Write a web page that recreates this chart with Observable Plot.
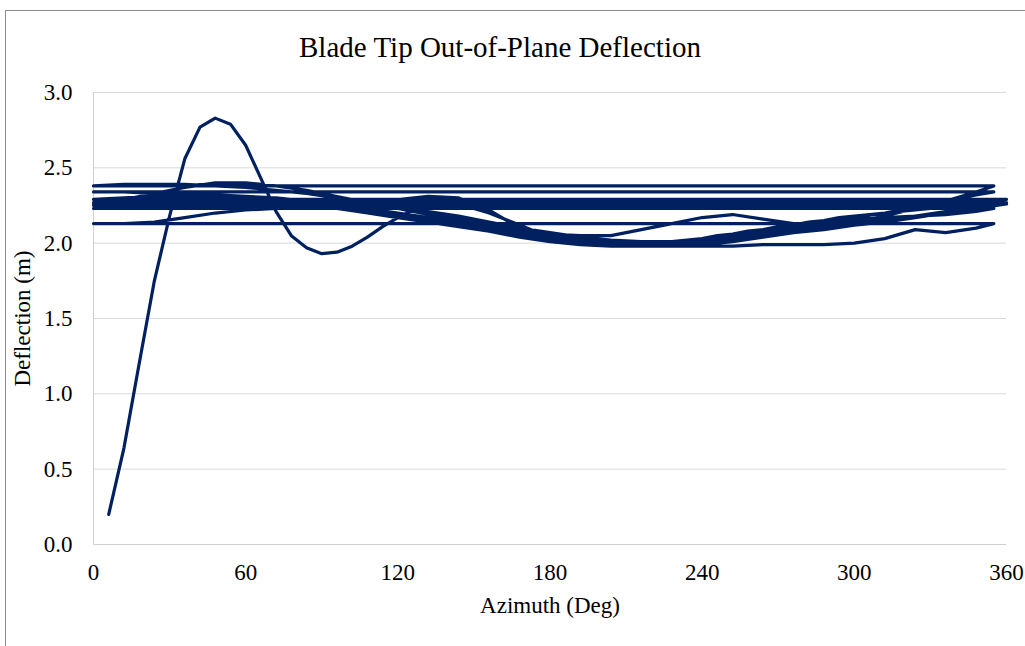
<!DOCTYPE html>
<html><head><meta charset="utf-8">
<script src="https://cdn.jsdelivr.net/npm/d3@7"></script>
<script src="https://cdn.jsdelivr.net/npm/@observablehq/plot@0.6"></script>
<style>
body{margin:0;background:#fff;}
#wrap{position:relative;width:1025px;height:646px;overflow:hidden;background:#fff;}
#frame{position:absolute;left:5px;top:10px;width:1100px;height:700px;border:1.5px solid #8c8c8c;box-sizing:border-box;}
#title{position:absolute;left:0;width:1000px;top:31px;line-height:32px;text-align:center;font-family:"Liberation Serif",serif;font-size:29px;color:#000;white-space:nowrap;}
#chart{position:absolute;left:0;top:0;}
</style></head><body>
<div id="wrap"><div id="frame"></div><div id="chart"></div><div id="title">Blade Tip Out-of-Plane Deflection</div></div>
<script>
// Tick labels
const xTicks = [0, 60, 120, 180, 240, 300, 360];
const yTicks = [0, 0.5, 1.0, 1.5, 2.0, 2.5, 3.0];

// Revolution 1 (start-up transient), sampled every 6 deg
const rev1Azimuth = [6,12,18,24,30,36,42,48,54,60,66,72,78,84,90,96,102,108,114,120,126,132,138,144,150,156,162,168,174,180,186,192,198,204,210,216,222,228,234,240,246,252,258,264,270,276,282,288,294,300,306,312,318,324,330,336,342,348,354];
const rev1 = [0.20,0.64,1.20,1.75,2.18,2.56,2.77,2.83,2.79,2.65,2.43,2.21,2.05,1.97,1.93,1.94,1.98,2.04,2.11,2.17,2.22,2.25,2.26,2.25,2.23,2.20,2.16,2.12,2.08,2.05,2.03,2.01,2.00,1.99,1.99,1.99,2.00,2.01,2.02,2.03,2.05,2.06,2.08,2.09,2.11,2.12,2.14,2.15,2.17,2.18,2.19,2.20,2.21,2.22,2.23,2.23,2.24,2.24,2.25];

// Later revolutions, sampled every 12 deg
const azimuthTo355 = [0,12,24,36,48,60,72,84,96,108,120,132,144,156,168,180,192,204,216,228,240,252,264,276,288,300,312,324,336,348,355];
const azimuthTo360 = [0,12,24,36,48,60,72,84,96,108,120,132,144,156,168,180,192,204,216,228,240,252,264,276,288,300,312,324,336,348,360];

const rev2 = [2.25,2.29,2.33,2.37,2.40,2.40,2.38,2.35,2.31,2.27,2.23,2.19,2.15,2.11,2.07,2.04,2.01,1.99,1.98,1.98,1.99,2.01,2.04,2.07,2.10,2.14,2.18,2.23,2.28,2.34,2.38];
const rev3 = [2.38,2.39,2.39,2.39,2.38,2.37,2.35,2.33,2.30,2.27,2.24,2.21,2.17,2.13,2.09,2.05,2.02,2.00,1.99,2.00,2.02,2.05,2.08,2.11,2.14,2.17,2.20,2.24,2.28,2.32,2.34];
const rev4 = [2.34,2.34,2.33,2.32,2.31,2.30,2.29,2.28,2.27,2.27,2.29,2.31,2.30,2.22,2.10,2.06,2.05,2.05,2.09,2.13,2.17,2.19,2.16,2.13,2.14,2.17,2.20,2.23,2.25,2.27,2.29];
const rev5 = [2.29,2.30,2.31,2.32,2.32,2.31,2.30,2.28,2.26,2.23,2.20,2.16,2.12,2.08,2.04,2.01,1.99,1.98,1.98,1.99,2.01,2.03,2.05,2.07,2.09,2.12,2.15,2.18,2.21,2.24,2.27];
const rev6 = [2.27,2.28,2.30,2.31,2.31,2.30,2.28,2.26,2.24,2.21,2.18,2.15,2.12,2.09,2.06,2.03,2.01,2.00,2.00,2.01,2.03,2.06,2.09,2.12,2.14,2.16,2.17,2.18,2.19,2.21,2.23];
const rev7 = [2.23,2.25,2.27,2.28,2.28,2.27,2.26,2.25,2.24,2.22,2.20,2.17,2.14,2.11,2.08,2.05,2.02,2.00,1.99,1.98,1.98,1.98,1.99,1.99,1.99,2.00,2.03,2.09,2.07,2.10,2.13];
const rev8 = [2.13,2.13,2.14,2.17,2.20,2.22,2.23,2.24,2.24,2.24,2.23,2.21,2.18,2.14,2.10,2.07,2.04,2.02,2.01,2.01,2.02,2.04,2.06,2.08,2.10,2.12,2.14,2.17,2.20,2.23,2.26];
const rev9 = [2.26,2.27,2.28,2.29,2.29,2.28,2.27,2.25,2.23,2.20,2.17,2.14,2.11,2.08,2.05,2.03,2.01,2.00,2.00,2.01,2.03,2.05,2.08,2.10,2.12,2.14,2.16,2.18,2.20,2.22,2.24];

const revolutions = [
  [rev1Azimuth, rev1],
  [azimuthTo355, rev2],
  [azimuthTo355, rev3],
  [azimuthTo360, rev4],
  [azimuthTo360, rev5],
  [azimuthTo355, rev6],
  [azimuthTo355, rev7],
  [azimuthTo360, rev8],
  [azimuthTo355, rev9]
];

const data = [];
revolutions.forEach(([az, vals], r) => {
  if (az.length !== vals.length) throw new Error("length mismatch in rev " + (r + 1) + ": " + az.length + " vs " + vals.length);
  az.forEach((a, i) => data.push({az: a, def: vals[i]}));
});

const chart = Plot.plot({
  width: 1025, height: 646,
  marginLeft: 93, marginRight: 19, marginTop: 92, marginBottom: 102,
  style: {fontFamily: "'Liberation Serif', serif", fontSize: "23px", color: "#000", background: "transparent"},
  x: {domain: [0, 360], label: null},
  y: {domain: [0, 3], label: null},
  marks: [
    Plot.gridY(yTicks.filter(d => d > 0), {stroke: "#d9d9d9", strokeOpacity: 1, strokeWidth: 1}),
    Plot.ruleY([0], {stroke: "#d0d0d0", strokeWidth: 1}),
    Plot.ruleX([0], {stroke: "#d0d0d0", strokeWidth: 1}),
    Plot.axisX(xTicks, {tickSize: 0, tickPadding: 19, label: null, fontSize: 23}),
    Plot.axisY(yTicks, {tickSize: 0, tickPadding: 21, label: null, fontSize: 23, tickFormat: d => d.toFixed(1)}),
    Plot.line(data, {x: "az", y: "def", stroke: "#002060", strokeWidth: 3.2}),
    Plot.text(["Azimuth (Deg)"], {text: d => d, frameAnchor: "bottom", textAnchor: "middle", lineAnchor: "middle", dy: 61, fontSize: 23}),
    Plot.text(["Deflection (m)"], {text: d => d, frameAnchor: "left", textAnchor: "middle", lineAnchor: "middle", dx: -71, rotate: -90, fontSize: 23})
  ]
});
document.getElementById("chart").appendChild(chart);
</script>
</body></html>
